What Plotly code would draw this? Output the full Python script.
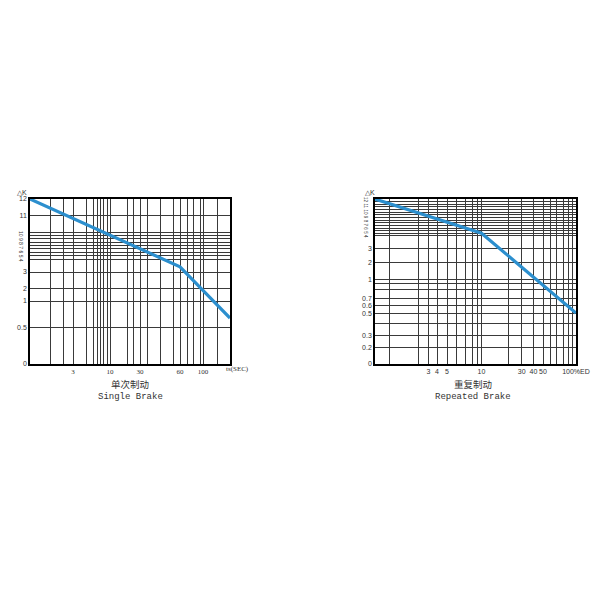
import numpy as np
import plotly.graph_objects as go

# ---------------- data ----------------
# Single brake: time ts (SEC) vs allowed delta K
single_t = [1, 60, 200]
single_dk = [12, 3.4, 0.68]
single_x_labels = ["3", "10", "30", "60", "100"]
single_x_label_vals = [3, 10, 30, 60, 100]
single_y_labels = ["12", "11", "3", "2", "1", "0.5", "0"]
single_y_label_vals = [12, 11, 3, 2, 1, 0.5, 0]

# Repeated brake: %ED vs delta K
rep_ed = [0.7, 10, 100]
rep_dk = [12, 4.6, 0.5]
rep_x_labels = ["3", "4", "5", "10", "30", "40", "50", "100%ED"]
rep_x_label_vals = [3, 4, 5, 10, 30, 40, 50, 100]
rep_y_labels = ["3", "2", "1", "0.7", "0.6", "0.5", "0.3", "0.2", "0"]
rep_y_label_vals = [3, 2, 1, 0.7, 0.6, 0.5, 0.3, 0.2, 0]

# ---------------- axis scales (the printed chart's non-uniform scales) ----------------
SX_V = [1, 2, 2.5, 3, 4, 5, 6, 7, 8, 9, 10, 20, 25, 30, 35, 40, 50, 60, 70, 80, 90, 100, 150, 200]
SX_P = [0, 20, 33, 43, 56, 63, 67, 70, 73, 77, 80, 97, 103, 110, 117, 130, 143, 150, 157, 163, 170, 173, 187, 200]
SY_V = [0, 0.5, 1, 2, 3, 4, 10, 11, 12]
SY_P = [164.7, 128.7, 102, 89.3, 73, 60, 33.3, 16.7, 0]
RX_V = [0.7, 1, 2, 3, 4, 5, 6, 7, 8, 9, 10, 20, 30, 40, 50, 60, 70, 80, 90, 95, 100]
RX_P = [0, 14, 43.5, 53.5, 62, 72, 81.7, 90, 97, 102.5, 106.5, 133.3, 146.7, 158.5, 168, 175, 181.7, 188.3, 193.3, 197, 201]
RY_V = [0, 0.2, 0.3, 0.4, 0.5, 0.6, 0.7, 0.8, 0.9, 1, 2, 3, 4, 12]
RY_P = [165, 149, 137, 125, 114.3, 107, 99.3, 90.5, 84.5, 81, 63.3, 50, 37, 0]


def xmap(v, V, P):
    return np.interp(np.log10(v), np.log10(V), P)


def ymap(v, V, P):
    return np.interp(v, V, P)


# ---------------- figure ----------------
fig = go.Figure()
blue = "#2c8fce"
fig.add_trace(go.Scatter(x=xmap(single_t, SX_V, SX_P), y=ymap(single_dk, SY_V, SY_P),
                         mode="lines", line=dict(color=blue, width=3.2),
                         xaxis="x", yaxis="y", showlegend=False, hoverinfo="skip"))
fig.add_trace(go.Scatter(x=xmap(rep_ed, RX_V, RX_P), y=ymap(rep_dk, RY_V, RY_P),
                         mode="lines", line=dict(color=blue, width=3.2),
                         xaxis="x2", yaxis="y2", showlegend=False, hoverinfo="skip"))


def ticks(grid_vals, label_vals, labels, mapper, V, P):
    vals = list(mapper(grid_vals, V, P))
    texts = [""] * len(vals)
    for lv, lt in zip(label_vals, labels):
        p = float(mapper([lv], V, P)[0])
        found = False
        for i, v in enumerate(vals):
            if abs(v - p) < 1e-6:
                texts[i] = lt
                found = True
        if not found:
            vals.append(p)
            texts.append(lt)
    return vals, texts


sx_grid = SX_V[1:-1]
sy_grid = [0.5, 1, 2, 3, 11, 12, 0] + list(np.linspace(4, 10, 9))
rx_grid = RX_V[1:-1]
ry_grid = [0, 0.2, 0.3, 0.4, 0.5, 0.6, 0.7, 0.8, 0.9, 1, 2, 3] + list(np.linspace(4, 12, 15))

sxv, sxt = ticks(sx_grid, single_x_label_vals, single_x_labels, xmap, SX_V, SX_P)
syv, syt = ticks(sy_grid, single_y_label_vals, single_y_labels, ymap, SY_V, SY_P)
rxv, rxt = ticks(rx_grid, rep_x_label_vals, rep_x_labels, xmap, RX_V, RX_P)
ryv, ryt = ticks(ry_grid, rep_y_label_vals, rep_y_labels, ymap, RY_V, RY_P)

grid_c = "#3a3a3a"
common_ax = dict(showline=True, linecolor="black", linewidth=1.6, mirror=True,
                 showgrid=True, gridcolor=grid_c, gridwidth=0.8, zeroline=False,
                 ticks="", tickmode="array", fixedrange=True, tickangle=0,
                 automargin=False)
tick_font_sans = dict(family="Liberation Sans, Arial, sans-serif", size=7, color="#333")
tick_font_serif = dict(family="Liberation Serif, Times New Roman, serif", size=7, color="#333")

y_dom = [1 - 363.7 / 600, 1 - 199 / 600]
fig.update_layout(
    width=600, height=600, autosize=False,
    margin=dict(l=0, r=0, t=0, b=0, pad=0, autoexpand=False),
    paper_bgcolor="white", plot_bgcolor="white", showlegend=False,
    xaxis=dict(domain=[30 / 600, 230 / 600], range=[0, 200], anchor="y",
               tickvals=sxv, ticktext=sxt, tickfont=tick_font_serif, **common_ax),
    yaxis=dict(domain=y_dom, range=[164.7, 0], anchor="x",
               tickvals=syv, ticktext=syt, tickfont=tick_font_sans, **common_ax),
    xaxis2=dict(domain=[375 / 600, 576 / 600], range=[0, 201], anchor="y2",
                tickvals=rxv, ticktext=rxt, tickfont=tick_font_sans, **common_ax),
    yaxis2=dict(domain=y_dom, range=[165, 0], anchor="x2",
                tickvals=ryv, ticktext=ryt, tickfont=tick_font_sans, **common_ax),
)

ann_font = dict(family="Liberation Sans, Arial, sans-serif", size=7, color="#333")
annotations = [
    dict(text="△K", x=22 / 600, y=1 - 192 / 600, font=ann_font),
    dict(text="△K", x=370 / 600, y=1 - 192 / 600, font=ann_font),
    dict(text="10 9 8 7 6 5 4", x=21 / 600, y=1 - 246 / 600, textangle=90,
         font=dict(family="Liberation Sans Narrow, Liberation Sans, sans-serif", size=5, color="#333")),
    dict(text="12 11 10 9 8 7 6 5 4", x=366 / 600, y=1 - 217 / 600, textangle=90,
         font=dict(family="Liberation Sans Narrow, Liberation Sans, sans-serif", size=4.6, color="#333")),
    dict(text="ts(SEC)", x=224 / 600, y=1 - 369 / 600, xanchor="left", font=tick_font_serif),
    dict(text="单次制动", x=130 / 600, y=1 - 384 / 600,
         font=dict(family="Noto Sans CJK SC", size=9.5, color="#333")),
    dict(text="Single Brake", x=130 / 600, y=1 - 397 / 600,
         font=dict(family="Liberation Mono, monospace", size=9, color="#333")),
    dict(text="重复制动", x=473 / 600, y=1 - 384 / 600,
         font=dict(family="Noto Sans CJK SC", size=9.5, color="#333")),
    dict(text="Repeated Brake", x=473 / 600, y=1 - 397 / 600,
         font=dict(family="Liberation Mono, monospace", size=9, color="#333")),
]
for a in annotations:
    a.update(xref="paper", yref="paper", showarrow=False)
    a.setdefault("xanchor", "center")
    a.setdefault("yanchor", "middle")
fig.update_layout(annotations=annotations)

fig.write_html("out.html", config={"displayModeBar": False, "responsive": False},
               post_script="document.body.style.margin='0';")
